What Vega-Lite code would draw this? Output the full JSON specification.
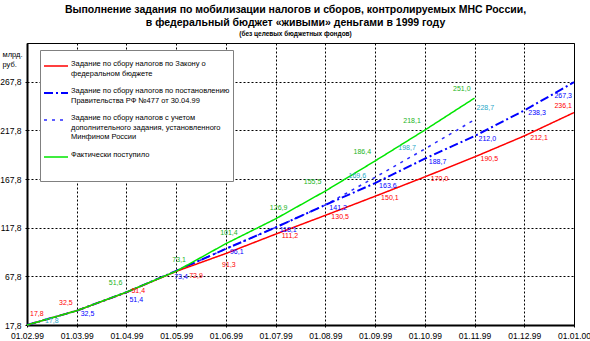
{
  "$schema": "https://vega.github.io/schema/vega-lite/v6.json",
  "width": 547,
  "height": 282,
  "autosize": {"type": "none"},
  "padding": {"left": 27, "top": 43, "right": 16, "bottom": 16},
  "background": "white",
  "title": {
    "text": ["Выполнение задания по мобилизации налогов и сборов, контролируемых МНС России,", "в федеральный бюджет «живыми» деньгами в 1999 году"],
    "subtitle": "(без целевых бюджетных фондов)",
    "anchor": "middle", "dx": -5, "offset": 6,
    "font": "Liberation Sans", "fontSize": 10.5, "fontWeight": "bold", "lineHeight": 13, "color": "black",
    "subtitleFont": "Liberation Sans", "subtitleFontSize": 6.5, "subtitleFontWeight": "bold", "subtitleColor": "black", "subtitlePadding": 2
  },
  "config": {
    "locale": {"number": {"decimal": ",", "thousands": " ", "grouping": [3], "currency": ["", ""]}},
    "view": {"stroke": "black", "strokeWidth": 1}
  },
  "data": {"values": [
    {"m": "01.02.99", "s": "minfin", "v": 17.8},
    {"m": "01.03.99", "s": "minfin", "v": 32.5},
    {"m": "01.04.99", "s": "minfin", "v": 51.4},
    {"m": "01.05.99", "s": "minfin", "v": 73.4},
    {"m": "01.06.99", "s": "minfin", "v": 96.1},
    {"m": "01.07.99", "s": "minfin", "v": 118.1},
    {"m": "01.08.99", "s": "minfin", "v": 141.2},
    {"m": "01.09.99", "s": "minfin", "v": 169.6},
    {"m": "01.10.99", "s": "minfin", "v": 198.7},
    {"m": "01.11.99", "s": "minfin", "v": 228.7},
    {"m": "01.02.99", "s": "gov", "v": 17.8},
    {"m": "01.03.99", "s": "gov", "v": 32.5},
    {"m": "01.04.99", "s": "gov", "v": 51.4},
    {"m": "01.05.99", "s": "gov", "v": 73.4},
    {"m": "01.06.99", "s": "gov", "v": 96.1},
    {"m": "01.07.99", "s": "gov", "v": 118.1},
    {"m": "01.08.99", "s": "gov", "v": 141.2},
    {"m": "01.09.99", "s": "gov", "v": 163.6},
    {"m": "01.10.99", "s": "gov", "v": 188.7},
    {"m": "01.11.99", "s": "gov", "v": 212.0},
    {"m": "01.12.99", "s": "gov", "v": 238.3},
    {"m": "01.01.00", "s": "gov", "v": 267.3},
    {"m": "01.02.99", "s": "law", "v": 17.8},
    {"m": "01.03.99", "s": "law", "v": 32.5},
    {"m": "01.04.99", "s": "law", "v": 51.4},
    {"m": "01.05.99", "s": "law", "v": 72.9},
    {"m": "01.06.99", "s": "law", "v": 91.3},
    {"m": "01.07.99", "s": "law", "v": 111.2},
    {"m": "01.08.99", "s": "law", "v": 130.5},
    {"m": "01.09.99", "s": "law", "v": 150.1},
    {"m": "01.10.99", "s": "law", "v": 170.0},
    {"m": "01.11.99", "s": "law", "v": 190.5},
    {"m": "01.12.99", "s": "law", "v": 212.1},
    {"m": "01.01.00", "s": "law", "v": 236.1},
    {"m": "01.02.99", "s": "fact", "v": 17.8},
    {"m": "01.03.99", "s": "fact", "v": 32.5},
    {"m": "01.04.99", "s": "fact", "v": 51.6},
    {"m": "01.05.99", "s": "fact", "v": 73.1},
    {"m": "01.06.99", "s": "fact", "v": 101.4},
    {"m": "01.07.99", "s": "fact", "v": 126.9},
    {"m": "01.08.99", "s": "fact", "v": 155.5},
    {"m": "01.09.99", "s": "fact", "v": 186.4},
    {"m": "01.10.99", "s": "fact", "v": 218.1},
    {"m": "01.11.99", "s": "fact", "v": 251.0}
  ]},
  "encoding": {
    "x": {
      "field": "m", "type": "ordinal",
      "scale": {"type": "point", "padding": 0, "domain": ["01.02.99", "01.03.99", "01.04.99", "01.05.99", "01.06.99", "01.07.99", "01.08.99", "01.09.99", "01.10.99", "01.11.99", "01.12.99", "01.01.00"]},
      "axis": {
        "title": null, "labelAngle": 0, "labelFont": "Liberation Sans", "labelFontSize": 8.5, "labelColor": "black", "labelPadding": 3,
        "tickSize": 3, "tickColor": "black", "tickDash": [2, 2],
        "domainColor": "black", "domainWidth": 2,
        "grid": true, "gridColor": "black", "gridDash": [2, 2], "gridOpacity": 1
      }
    },
    "y": {
      "field": "v", "type": "quantitative",
      "scale": {"domain": [17.8, 307.6], "nice": false, "zero": false},
      "axis": {
        "values": [17.8, 67.8, 117.8, 167.8, 217.8, 267.8], "format": ".1f",
        "title": ["млрд.", "руб."], "titleAngle": 0, "titleAlign": "left", "titleBaseline": "top", "titleX": -25, "titleY": 7,
        "titleFont": "Liberation Sans", "titleFontSize": 7.5, "titleFontWeight": "normal", "titleLineHeight": 10, "titleColor": "black",
        "labelFont": "Liberation Sans", "labelFontSize": 8.5, "labelColor": "black", "labelPadding": 2,
        "tickSize": 4, "tickColor": "black", "tickDash": [2, 2],
        "domainColor": "black", "domainWidth": 2,
        "grid": true, "gridColor": "black", "gridDash": [2, 2], "gridOpacity": 1
      }
    }
  },
  "layer": [
    {
      "mark": {"type": "line", "strokeCap": "butt"},
      "encoding": {
        "color": {
          "field": "s", "type": "nominal",
          "scale": {"domain": ["law", "gov", "minfin", "fact"], "range": ["#ff0000", "#0000ff", "#2a2aff", "#00e600"]},
          "legend": {
            "orient": "none", "legendX": 13, "legendY": 7, "title": null,
            "symbolType": "stroke", "symbolSize": 576,
            "labelFont": "Liberation Sans", "labelFontSize": 7.5, "labelColor": "black", "labelLimit": 400, "labelBaseline": "alphabetic", "labelOffset": 2,
            "fillColor": "white", "strokeColor": "#808080", "padding": 3, "rowPadding": 3,
            "labelExpr": "datum.value=='law'?['Задание по сбору налогов по Закону о','федеральном бюджете']:datum.value=='gov'?['Задание по сбору налогов по постановлению','Правительства РФ №477 от 30.04.99']:datum.value=='minfin'?['Задание по сбору налогов с учетом','дополнительного задания, установленного','Минфином России']:['Фактически поступило','\u00a0','\u00a0']"
          }
        },
        "strokeDash": {
          "field": "s", "type": "nominal",
          "scale": {"type": "ordinal", "domain": ["law", "gov", "minfin", "fact"], "range": [[1, 0], [9, 3, 2, 3], [3, 5], [1, 0]]}
        },
        "strokeWidth": {
          "field": "s", "type": "nominal",
          "scale": {"type": "ordinal", "domain": ["law", "gov", "minfin", "fact"], "range": [1.5, 2, 1.5, 1.5]}
        }
      }
    },
    {
      "transform": [{"filter": {"and": [{"field": "s", "equal": "law"}, {"field": "m", "oneOf": ["01.07.99", "01.08.99", "01.09.99", "01.10.99", "01.11.99", "01.12.99"]}]}}],
      "mark": {"type": "text", "font": "Liberation Sans", "fontSize": 7, "align": "left", "baseline": "middle", "dx": 6, "dy": 2, "color": "#ff0000"},
      "encoding": {"text": {"field": "v", "type": "quantitative", "format": ".1f"}}
    },
    {
      "transform": [{"filter": {"and": [{"field": "s", "equal": "law"}, {"field": "m", "equal": "01.04.99"}]}}],
      "mark": {"type": "text", "font": "Liberation Sans", "fontSize": 7, "align": "left", "baseline": "middle", "dx": 5, "dy": -1, "color": "#ff0000"},
      "encoding": {"text": {"field": "v", "type": "quantitative", "format": ".1f"}}
    },
    {
      "transform": [{"filter": {"and": [{"field": "s", "equal": "law"}, {"field": "m", "equal": "01.05.99"}]}}],
      "mark": {"type": "text", "font": "Liberation Sans", "fontSize": 7, "align": "left", "baseline": "middle", "dx": 13, "dy": 5, "color": "#ff0000"},
      "encoding": {"text": {"field": "v", "type": "quantitative", "format": ".1f"}}
    },
    {
      "transform": [{"filter": {"and": [{"field": "s", "equal": "law"}, {"field": "m", "equal": "01.02.99"}]}}],
      "mark": {"type": "text", "font": "Liberation Sans", "fontSize": 7, "align": "left", "baseline": "middle", "dx": 3, "dy": -11, "color": "#ff0000"},
      "encoding": {"text": {"field": "v", "type": "quantitative", "format": ".1f"}}
    },
    {
      "transform": [{"filter": {"and": [{"field": "s", "equal": "law"}, {"field": "m", "equal": "01.03.99"}]}}],
      "mark": {"type": "text", "font": "Liberation Sans", "fontSize": 7, "align": "right", "baseline": "middle", "dx": -4, "dy": -8, "color": "#ff0000"},
      "encoding": {"text": {"field": "v", "type": "quantitative", "format": ".1f"}}
    },
    {
      "transform": [{"filter": {"and": [{"field": "s", "equal": "law"}, {"field": "m", "equal": "01.06.99"}]}}],
      "mark": {"type": "text", "font": "Liberation Sans", "fontSize": 7, "align": "center", "baseline": "middle", "dx": 3, "dy": 12, "color": "#ff0000"},
      "encoding": {"text": {"field": "v", "type": "quantitative", "format": ".1f"}}
    },
    {
      "transform": [{"filter": {"and": [{"field": "s", "equal": "law"}, {"field": "m", "equal": "01.01.00"}]}}],
      "mark": {"type": "text", "font": "Liberation Sans", "fontSize": 7, "align": "right", "baseline": "middle", "dx": -2, "dy": -7, "color": "#ff0000"},
      "encoding": {"text": {"field": "v", "type": "quantitative", "format": ".1f"}}
    },
    {
      "transform": [{"filter": {"and": [{"field": "s", "equal": "gov"}, {"field": "m", "oneOf": ["01.03.99", "01.06.99", "01.07.99", "01.08.99", "01.09.99", "01.10.99", "01.11.99", "01.12.99"]}]}}],
      "mark": {"type": "text", "font": "Liberation Sans", "fontSize": 7, "align": "left", "baseline": "middle", "dx": 4, "dy": 3, "color": "#0000ff"},
      "encoding": {"text": {"field": "v", "type": "quantitative", "format": ".1f"}}
    },
    {
      "transform": [{"filter": {"and": [{"field": "s", "equal": "gov"}, {"field": "m", "equal": "01.04.99"}]}}],
      "mark": {"type": "text", "font": "Liberation Sans", "fontSize": 7, "align": "left", "baseline": "middle", "dx": 3, "dy": 8, "color": "#0000ff"},
      "encoding": {"text": {"field": "v", "type": "quantitative", "format": ".1f"}}
    },
    {
      "transform": [{"filter": {"and": [{"field": "s", "equal": "gov"}, {"field": "m", "equal": "01.05.99"}]}}],
      "mark": {"type": "text", "font": "Liberation Sans", "fontSize": 7, "align": "left", "baseline": "middle", "dx": -2, "dy": 6, "color": "#0000ff"},
      "encoding": {"text": {"field": "v", "type": "quantitative", "format": ".1f"}}
    },
    {
      "transform": [{"filter": {"and": [{"field": "s", "equal": "gov"}, {"field": "m", "equal": "01.01.00"}]}}],
      "mark": {"type": "text", "font": "Liberation Sans", "fontSize": 7, "align": "right", "baseline": "middle", "dx": -2, "dy": 14, "color": "#0000ff"},
      "encoding": {"text": {"field": "v", "type": "quantitative", "format": ".1f"}}
    },
    {
      "transform": [{"filter": {"and": [{"field": "s", "equal": "fact"}, {"field": "m", "oneOf": ["01.04.99", "01.08.99", "01.09.99", "01.10.99", "01.11.99"]}]}}],
      "mark": {"type": "text", "font": "Liberation Sans", "fontSize": 7, "align": "right", "baseline": "middle", "dx": -4, "dy": -9, "color": "#22b422"},
      "encoding": {"text": {"field": "v", "type": "quantitative", "format": ".1f"}}
    },
    {
      "transform": [{"filter": {"and": [{"field": "s", "equal": "fact"}, {"field": "m", "oneOf": ["01.05.99", "01.06.99", "01.07.99"]}]}}],
      "mark": {"type": "text", "font": "Liberation Sans", "fontSize": 7, "align": "center", "baseline": "middle", "dx": 3, "dy": -11, "color": "#22b422"},
      "encoding": {"text": {"field": "v", "type": "quantitative", "format": ".1f"}}
    },
    {
      "transform": [{"filter": {"and": [{"field": "s", "equal": "minfin"}, {"field": "m", "equal": "01.02.99"}]}}],
      "mark": {"type": "text", "font": "Liberation Sans", "fontSize": 7, "align": "left", "baseline": "middle", "dx": 18, "dy": -4, "color": "#28a8c8"},
      "encoding": {"text": {"field": "v", "type": "quantitative", "format": ".1f"}}
    },
    {
      "transform": [{"filter": {"and": [{"field": "s", "equal": "minfin"}, {"field": "m", "oneOf": ["01.09.99", "01.10.99"]}]}}],
      "mark": {"type": "text", "font": "Liberation Sans", "fontSize": 7, "align": "right", "baseline": "middle", "dx": -9, "dy": -1, "color": "#28a8c8"},
      "encoding": {"text": {"field": "v", "type": "quantitative", "format": ".1f"}}
    },
    {
      "transform": [{"filter": {"and": [{"field": "s", "equal": "minfin"}, {"field": "m", "equal": "01.11.99"}]}}],
      "mark": {"type": "text", "font": "Liberation Sans", "fontSize": 7, "align": "left", "baseline": "middle", "dx": 2, "dy": -12, "color": "#28a8c8"},
      "encoding": {"text": {"field": "v", "type": "quantitative", "format": ".1f"}}
    }
  ]
}
